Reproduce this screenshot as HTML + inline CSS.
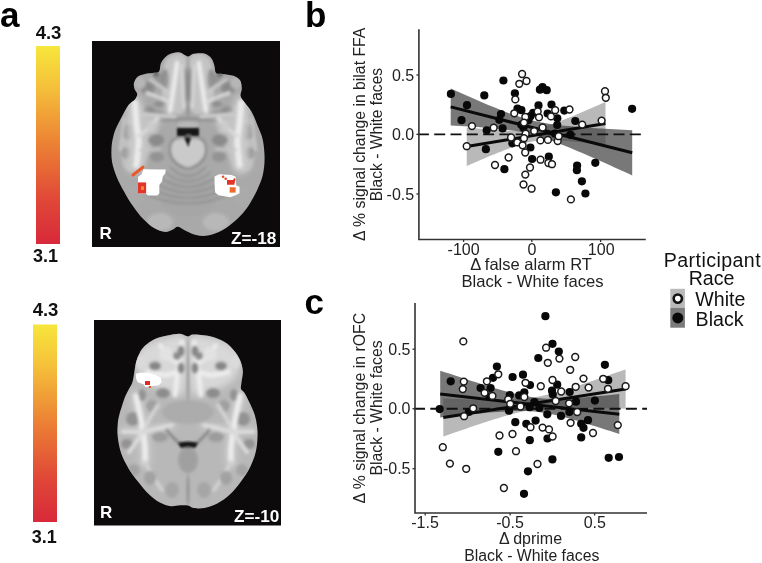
<!DOCTYPE html><html><head><meta charset="utf-8"><style>html,body{margin:0;padding:0;background:#fff;overflow:hidden}svg{display:block;filter:blur(0.35px)}</style></head><body>
<svg width="762" height="563" viewBox="0 0 762 563" font-family="Liberation Sans, sans-serif">
<defs>
<linearGradient id="cb" x1="0" y1="0" x2="0" y2="1">
<stop offset="0" stop-color="#f7e63c"/><stop offset="0.2" stop-color="#f5c23a"/><stop offset="0.5" stop-color="#ec8034"/><stop offset="0.78" stop-color="#e04737"/><stop offset="1" stop-color="#d8293a"/>
</linearGradient>
<filter id="bl2" x="-20%" y="-20%" width="140%" height="140%"><feGaussianBlur stdDeviation="2"/></filter>
<filter id="bl3" x="-20%" y="-20%" width="140%" height="140%"><feGaussianBlur stdDeviation="3"/></filter>
<filter id="bl15" x="-20%" y="-20%" width="140%" height="140%"><feGaussianBlur stdDeviation="1.5"/></filter>
<filter id="bl05" x="-20%" y="-20%" width="140%" height="140%"><feGaussianBlur stdDeviation="0.5"/></filter>
<filter id="bl1" x="-20%" y="-20%" width="140%" height="140%"><feGaussianBlur stdDeviation="0.8"/></filter>
</defs>
<text x="0" y="27" font-size="35" font-weight="bold" fill="#000">a</text>
<text x="305" y="27" font-size="35" font-weight="bold" fill="#000">b</text>
<text x="304.5" y="314" font-size="35" font-weight="bold" fill="#000">c</text>
<rect x="36" y="46" width="24" height="198" fill="url(#cb)"/>
<rect x="33" y="324.5" width="24" height="197.5" fill="url(#cb)"/>
<text x="48.5" y="39.2" font-size="18.5" font-weight="bold" text-anchor="middle" fill="#111">4.3</text>
<text x="45.6" y="262.3" font-size="18" font-weight="bold" text-anchor="middle" fill="#111">3.1</text>
<text x="45.5" y="315.6" font-size="18.5" font-weight="bold" text-anchor="middle" fill="#111">4.3</text>
<text x="44.3" y="542.7" font-size="18" font-weight="bold" text-anchor="middle" fill="#111">3.1</text>
<rect x="92" y="41" width="188" height="206" fill="#0c0a0a"/>
<rect x="94" y="320" width="187" height="205.5" fill="#0c0a0a"/>
<defs><clipPath id="cp1"><path d="M188.0,56.5 C190.2,56.7 190.6,54.3 193.3,53.8 C196.0,53.3 201.3,52.8 204.3,53.6 C207.3,54.4 209.8,56.4 211.5,58.5 C213.2,60.6 213.8,63.6 214.5,66.0 C215.2,68.4 214.7,71.7 216.0,73.0 C217.3,74.3 219.7,73.5 222.6,73.9 C225.5,74.4 230.6,74.6 233.5,75.7 C236.4,76.8 238.6,78.2 240.0,80.3 C241.4,82.4 241.7,85.9 241.8,88.5 C241.9,91.1 240.1,93.6 240.5,95.9 C240.9,98.2 242.6,99.6 244.5,102.3 C246.4,105.0 249.5,108.2 251.8,112.3 C254.1,116.4 256.4,122.4 258.2,127.0 C260.0,131.6 261.7,134.5 262.8,139.8 C263.9,145.1 264.6,152.7 264.6,158.6 C264.6,164.5 264.0,169.9 262.8,175.1 C261.6,180.3 259.7,184.5 257.3,189.7 C254.9,194.9 251.5,201.3 248.2,206.2 C244.8,211.1 241.5,215.0 237.2,219.0 C232.9,223.0 227.5,227.2 222.6,230.0 C217.7,232.8 212.4,234.7 208.0,235.5 C203.6,236.3 199.7,235.8 196.0,235.0 C192.3,234.2 189.0,232.4 186.0,231.0 C183.0,229.6 180.2,226.9 178.0,226.7 C175.8,226.4 175.1,228.6 173.0,229.5 C170.9,230.4 168.3,232.2 165.2,232.0 C162.1,231.8 157.9,230.2 154.2,228.0 C150.5,225.8 146.7,222.6 143.2,219.0 C139.7,215.4 136.3,210.8 133.1,206.2 C129.9,201.6 126.7,196.4 124.0,191.5 C121.3,186.6 118.7,181.8 116.7,176.9 C114.7,172.0 113.0,167.1 112.1,162.3 C111.2,157.5 111.3,152.1 111.5,148.0 C111.7,143.9 112.3,141.0 113.0,137.8 C113.7,134.6 114.4,132.1 115.8,128.8 C117.2,125.5 119.2,121.8 121.3,117.8 C123.4,113.8 126.3,108.0 128.6,105.0 C130.9,102.0 133.6,101.3 135.0,99.5 C136.4,97.7 137.3,95.8 137.2,94.0 C137.1,92.2 135.0,90.8 134.5,89.0 C134.0,87.2 133.5,85.0 134.0,83.0 C134.5,81.0 135.9,78.2 137.7,76.7 C139.5,75.2 142.6,74.5 145.0,73.9 C147.4,73.3 150.1,73.4 152.4,73.0 C154.7,72.6 157.6,73.2 159.0,71.5 C160.4,69.8 159.8,65.5 161.0,63.0 C162.2,60.5 164.0,58.2 166.0,56.5 C168.0,54.8 170.7,53.7 173.0,53.0 C175.3,52.3 177.5,51.9 180.0,52.5 C182.5,53.1 185.8,56.3 188.0,56.5Z"/></clipPath></defs>
<path d="M188.0,56.5 C190.2,56.7 190.6,54.3 193.3,53.8 C196.0,53.3 201.3,52.8 204.3,53.6 C207.3,54.4 209.8,56.4 211.5,58.5 C213.2,60.6 213.8,63.6 214.5,66.0 C215.2,68.4 214.7,71.7 216.0,73.0 C217.3,74.3 219.7,73.5 222.6,73.9 C225.5,74.4 230.6,74.6 233.5,75.7 C236.4,76.8 238.6,78.2 240.0,80.3 C241.4,82.4 241.7,85.9 241.8,88.5 C241.9,91.1 240.1,93.6 240.5,95.9 C240.9,98.2 242.6,99.6 244.5,102.3 C246.4,105.0 249.5,108.2 251.8,112.3 C254.1,116.4 256.4,122.4 258.2,127.0 C260.0,131.6 261.7,134.5 262.8,139.8 C263.9,145.1 264.6,152.7 264.6,158.6 C264.6,164.5 264.0,169.9 262.8,175.1 C261.6,180.3 259.7,184.5 257.3,189.7 C254.9,194.9 251.5,201.3 248.2,206.2 C244.8,211.1 241.5,215.0 237.2,219.0 C232.9,223.0 227.5,227.2 222.6,230.0 C217.7,232.8 212.4,234.7 208.0,235.5 C203.6,236.3 199.7,235.8 196.0,235.0 C192.3,234.2 189.0,232.4 186.0,231.0 C183.0,229.6 180.2,226.9 178.0,226.7 C175.8,226.4 175.1,228.6 173.0,229.5 C170.9,230.4 168.3,232.2 165.2,232.0 C162.1,231.8 157.9,230.2 154.2,228.0 C150.5,225.8 146.7,222.6 143.2,219.0 C139.7,215.4 136.3,210.8 133.1,206.2 C129.9,201.6 126.7,196.4 124.0,191.5 C121.3,186.6 118.7,181.8 116.7,176.9 C114.7,172.0 113.0,167.1 112.1,162.3 C111.2,157.5 111.3,152.1 111.5,148.0 C111.7,143.9 112.3,141.0 113.0,137.8 C113.7,134.6 114.4,132.1 115.8,128.8 C117.2,125.5 119.2,121.8 121.3,117.8 C123.4,113.8 126.3,108.0 128.6,105.0 C130.9,102.0 133.6,101.3 135.0,99.5 C136.4,97.7 137.3,95.8 137.2,94.0 C137.1,92.2 135.0,90.8 134.5,89.0 C134.0,87.2 133.5,85.0 134.0,83.0 C134.5,81.0 135.9,78.2 137.7,76.7 C139.5,75.2 142.6,74.5 145.0,73.9 C147.4,73.3 150.1,73.4 152.4,73.0 C154.7,72.6 157.6,73.2 159.0,71.5 C160.4,69.8 159.8,65.5 161.0,63.0 C162.2,60.5 164.0,58.2 166.0,56.5 C168.0,54.8 170.7,53.7 173.0,53.0 C175.3,52.3 177.5,51.9 180.0,52.5 C182.5,53.1 185.8,56.3 188.0,56.5Z" fill="#a9a9a9"/>
<g clip-path="url(#cp1)"><g filter="url(#bl15)">
<path d="M166.0,60.0 C170.0,53.7 182.7,50.0 186.0,58.0 C189.3,66.0 188.3,99.0 186.0,108.0 C183.7,117.0 176.0,114.0 172.0,112.0 C168.0,110.0 163.0,104.7 162.0,96.0 C161.0,87.3 162.0,66.3 166.0,60.0Z" fill="#c2c2c2"/><path d="M210.0,60.0 C206.0,53.7 193.3,50.0 190.0,58.0 C186.7,66.0 187.7,99.0 190.0,108.0 C192.3,117.0 200.0,114.0 204.0,112.0 C208.0,110.0 213.0,104.7 214.0,96.0 C215.0,87.3 214.0,66.3 210.0,60.0Z" fill="#c2c2c2"/>
<path d="M134.0,106.0 C138.7,101.3 145.7,109.3 150.0,112.0 C154.3,114.7 160.0,115.7 160.0,122.0 C160.0,128.3 153.3,142.0 150.0,150.0 C146.7,158.0 144.3,167.0 140.0,170.0 C135.7,173.0 127.0,173.0 124.0,168.0 C121.0,163.0 120.3,150.3 122.0,140.0 C123.7,129.7 129.3,110.7 134.0,106.0Z" fill="#bebebe"/><path d="M242.0,106.0 C237.3,101.3 230.3,109.3 226.0,112.0 C221.7,114.7 216.0,115.7 216.0,122.0 C216.0,128.3 222.7,142.0 226.0,150.0 C229.3,158.0 231.7,167.0 236.0,170.0 C240.3,173.0 249.0,173.0 252.0,168.0 C255.0,163.0 255.7,150.3 254.0,140.0 C252.3,129.7 246.7,110.7 242.0,106.0Z" fill="#bebebe"/>
<ellipse cx="148.0" cy="88.0" rx="7.0" ry="7.0" fill="#8a8a8a"/><ellipse cx="228.0" cy="88.0" rx="7.0" ry="7.0" fill="#8a8a8a"/>
<ellipse cx="159.0" cy="80.0" rx="4.0" ry="6.0" fill="#959595"/><ellipse cx="217.0" cy="80.0" rx="4.0" ry="6.0" fill="#959595"/>
<ellipse cx="149.0" cy="110.0" rx="6.0" ry="4.0" fill="#939393"/><ellipse cx="227.0" cy="110.0" rx="6.0" ry="4.0" fill="#939393"/>
<ellipse cx="128.0" cy="132.0" rx="5.5" ry="8.0" fill="#999999"/><ellipse cx="248.0" cy="132.0" rx="5.5" ry="8.0" fill="#999999"/>
<ellipse cx="126.0" cy="153.0" rx="4.5" ry="6.0" fill="#989898"/><ellipse cx="250.0" cy="153.0" rx="4.5" ry="6.0" fill="#989898"/>
<ellipse cx="156.0" cy="140.0" rx="8.0" ry="6.0" fill="#8a8a8a"/><ellipse cx="220.0" cy="140.0" rx="8.0" ry="6.0" fill="#8a8a8a"/>
<ellipse cx="157.0" cy="157.0" rx="7.0" ry="5.0" fill="#939393"/><ellipse cx="219.0" cy="157.0" rx="7.0" ry="5.0" fill="#939393"/>
<path d="M150.0,112.0 C152.5,112.3 160.7,112.7 165.0,114.0 C169.3,115.3 174.2,119.0 176.0,120.0" fill="none" stroke="#8a8a8a" stroke-width="3.0" stroke-linecap="round" stroke-linejoin="round"/><path d="M226.0,112.0 C223.5,112.3 215.3,112.7 211.0,114.0 C206.7,115.3 201.8,119.0 200.0,120.0" fill="none" stroke="#8a8a8a" stroke-width="3.0" stroke-linecap="round" stroke-linejoin="round"/>
<ellipse cx="165.0" cy="80.0" rx="4.0" ry="11.0" fill="#8e8e8e"/><ellipse cx="211.0" cy="80.0" rx="4.0" ry="11.0" fill="#8e8e8e"/>
<ellipse cx="156.0" cy="74.0" rx="3.0" ry="3.0" fill="#6a6a6a"/><ellipse cx="220.0" cy="74.0" rx="3.0" ry="3.0" fill="#6a6a6a"/>
<ellipse cx="185.0" cy="85.0" rx="2.5" ry="18.0" fill="#9a9a9a"/><ellipse cx="191.0" cy="85.0" rx="2.5" ry="18.0" fill="#9a9a9a"/>
<ellipse cx="160.0" cy="104.0" rx="6.0" ry="3.0" fill="#8e8e8e"/><ellipse cx="216.0" cy="104.0" rx="6.0" ry="3.0" fill="#8e8e8e"/>
<ellipse cx="188.0" cy="88.0" rx="1.2" ry="30.0" fill="#808080"/>
<path d="M188,140 C182,134.5 169,134.5 169,150 C169,162 180,168.5 188,169.5 C196,168.5 207,162 207,150 C207,134.5 194,134.5 188,140Z" fill="#828282"/>
<path d="M160.0,120.5 C164.7,120.2 178.7,119.0 188.0,119.0 C197.3,119.0 211.3,120.2 216.0,120.5" fill="none" stroke="#8a8a8a" stroke-width="2.5" stroke-linecap="round" stroke-linejoin="round"/>
<ellipse cx="188.0" cy="195.0" rx="30.0" ry="22.0" fill="#a6a6a6"/>
<g filter="url(#bl3)"><path d="M177.0,63.0 C176.5,66.7 175.2,77.0 174.0,85.0 C172.8,93.0 170.7,106.7 170.0,111.0" fill="none" stroke="#c8c8c8" stroke-width="10.0" stroke-linecap="round" stroke-linejoin="round"/><path d="M199.0,63.0 C199.5,66.7 200.8,77.0 202.0,85.0 C203.2,93.0 205.3,106.7 206.0,111.0" fill="none" stroke="#c8c8c8" stroke-width="10.0" stroke-linecap="round" stroke-linejoin="round"/></g>
<g filter="url(#bl3)"><path d="M134.0,103.0 C134.2,106.3 135.0,116.5 135.4,123.0 C135.8,129.5 136.6,134.8 136.6,142.0 C136.6,149.2 135.6,162.0 135.4,166.0" fill="none" stroke="#cbcbcb" stroke-width="16.0" stroke-linecap="round" stroke-linejoin="round"/><path d="M242.0,103.0 C241.8,106.3 241.0,116.5 240.6,123.0 C240.2,129.5 239.4,134.8 239.4,142.0 C239.4,149.2 240.4,162.0 240.6,166.0" fill="none" stroke="#cbcbcb" stroke-width="16.0" stroke-linecap="round" stroke-linejoin="round"/></g>
<g filter="url(#bl3)"><path d="M138.6,136.0 C140.3,134.7 145.8,131.0 149.0,128.0 C152.2,125.0 156.2,119.7 157.7,118.0" fill="none" stroke="#c4c4c4" stroke-width="8.0" stroke-linecap="round" stroke-linejoin="round"/><path d="M237.4,136.0 C235.7,134.7 230.2,131.0 227.0,128.0 C223.8,125.0 219.8,119.7 218.3,118.0" fill="none" stroke="#c4c4c4" stroke-width="8.0" stroke-linecap="round" stroke-linejoin="round"/></g>
<path d="M177.0,63.0 C176.5,66.7 175.2,77.0 174.0,85.0 C172.8,93.0 170.7,106.7 170.0,111.0" fill="none" stroke="#eaeaea" stroke-width="4.5" stroke-linecap="round" stroke-linejoin="round"/><path d="M199.0,63.0 C199.5,66.7 200.8,77.0 202.0,85.0 C203.2,93.0 205.3,106.7 206.0,111.0" fill="none" stroke="#eaeaea" stroke-width="4.5" stroke-linecap="round" stroke-linejoin="round"/>
<path d="M182.0,66.0 C182.2,69.7 182.8,81.2 183.0,88.0 C183.2,94.8 183.4,103.8 183.5,107.0" fill="none" stroke="#d8d8d8" stroke-width="3.0" stroke-linecap="round" stroke-linejoin="round"/><path d="M194.0,66.0 C193.8,69.7 193.2,81.2 193.0,88.0 C192.8,94.8 192.6,103.8 192.5,107.0" fill="none" stroke="#d8d8d8" stroke-width="3.0" stroke-linecap="round" stroke-linejoin="round"/>
<path d="M147.0,93.0 C148.8,93.7 154.3,95.5 158.0,97.0 C161.7,98.5 167.2,101.2 169.0,102.0" fill="none" stroke="#d8d8d8" stroke-width="3.5" stroke-linecap="round" stroke-linejoin="round"/><path d="M229.0,93.0 C227.2,93.7 221.7,95.5 218.0,97.0 C214.3,98.5 208.8,101.2 207.0,102.0" fill="none" stroke="#d8d8d8" stroke-width="3.5" stroke-linecap="round" stroke-linejoin="round"/>
<path d="M150.0,80.0 C151.7,81.0 157.0,84.0 160.0,86.0 C163.0,88.0 166.7,91.0 168.0,92.0" fill="none" stroke="#cccccc" stroke-width="3.0" stroke-linecap="round" stroke-linejoin="round"/><path d="M226.0,80.0 C224.3,81.0 219.0,84.0 216.0,86.0 C213.0,88.0 209.3,91.0 208.0,92.0" fill="none" stroke="#cccccc" stroke-width="3.0" stroke-linecap="round" stroke-linejoin="round"/>
<path d="M135.0,103.0 C135.2,106.3 135.8,116.5 136.4,123.0 C137.0,129.5 138.6,135.0 138.6,142.0 C138.6,149.0 136.8,161.2 136.4,165.0" fill="none" stroke="#eaeaea" stroke-width="6.0" stroke-linecap="round" stroke-linejoin="round"/><path d="M241.0,103.0 C240.8,106.3 240.2,116.5 239.6,123.0 C239.0,129.5 237.4,135.0 237.4,142.0 C237.4,149.0 239.2,161.2 239.6,165.0" fill="none" stroke="#eaeaea" stroke-width="6.0" stroke-linecap="round" stroke-linejoin="round"/>
<path d="M138.6,136.0 C140.3,134.7 145.8,131.0 149.0,128.0 C152.2,125.0 156.2,119.7 157.7,118.0" fill="none" stroke="#dadada" stroke-width="3.5" stroke-linecap="round" stroke-linejoin="round"/><path d="M237.4,136.0 C235.7,134.7 230.2,131.0 227.0,128.0 C223.8,125.0 219.8,119.7 218.3,118.0" fill="none" stroke="#dadada" stroke-width="3.5" stroke-linecap="round" stroke-linejoin="round"/>
<path d="M143.5,114.0 C146.2,114.2 154.8,114.5 160.0,115.0 C165.2,115.5 172.5,116.7 175.0,117.0" fill="none" stroke="#cfcfcf" stroke-width="3.0" stroke-linecap="round" stroke-linejoin="round"/><path d="M232.5,114.0 C229.8,114.2 221.2,114.5 216.0,115.0 C210.8,115.5 203.5,116.7 201.0,117.0" fill="none" stroke="#cfcfcf" stroke-width="3.0" stroke-linecap="round" stroke-linejoin="round"/>
<path d="M124.0,118.0 C123.7,120.8 122.7,129.7 122.0,135.0 C121.3,140.3 120.3,147.5 120.0,150.0" fill="none" stroke="#c8c8c8" stroke-width="2.5" stroke-linecap="round" stroke-linejoin="round"/><path d="M252.0,118.0 C252.3,120.8 253.3,129.7 254.0,135.0 C254.7,140.3 255.7,147.5 256.0,150.0" fill="none" stroke="#c8c8c8" stroke-width="2.5" stroke-linecap="round" stroke-linejoin="round"/>
<path d="M140.0,150.0 C141.7,150.0 146.7,150.2 150.0,150.0 C153.3,149.8 158.3,149.2 160.0,149.0" fill="none" stroke="#c6c6c6" stroke-width="2.5" stroke-linecap="round" stroke-linejoin="round"/><path d="M236.0,150.0 C234.3,150.0 229.3,150.2 226.0,150.0 C222.7,149.8 217.7,149.2 216.0,149.0" fill="none" stroke="#c6c6c6" stroke-width="2.5" stroke-linecap="round" stroke-linejoin="round"/>
<ellipse cx="140.0" cy="83.0" rx="6.0" ry="6.0" fill="#b6b6b6"/><ellipse cx="236.0" cy="83.0" rx="6.0" ry="6.0" fill="#b6b6b6"/>
<ellipse cx="188.0" cy="124.5" rx="10.5" ry="3.5" fill="#b8b8b8"/>
<ellipse cx="151.0" cy="126.0" rx="4.0" ry="6.0" fill="#cccccc"/><ellipse cx="225.0" cy="126.0" rx="4.0" ry="6.0" fill="#cccccc"/>
<path d="M188,141 C184,137 171,136 171,150 C171,160 181,166 188,167.5 C195,166 205,160 205,150 C205,136 192,137 188,141Z" fill="#cacaca"/>
<path d="M170.0,167.0 Q188,185.0 206.0,167.0" fill="none" stroke="#8c8c8c" stroke-width="1.6"/>
<path d="M165.5,172.5 Q188,190.5 210.5,172.5" fill="none" stroke="#8c8c8c" stroke-width="1.6"/>
<path d="M161.0,178.0 Q188,196.0 215.0,178.0" fill="none" stroke="#8c8c8c" stroke-width="1.6"/>
<path d="M156.5,183.5 Q188,201.5 219.5,183.5" fill="none" stroke="#8c8c8c" stroke-width="1.6"/>
<path d="M152.0,189.0 Q188,207.0 224.0,189.0" fill="none" stroke="#8c8c8c" stroke-width="1.6"/>
<path d="M147.5,194.5 Q188,212.5 228.5,194.5" fill="none" stroke="#8c8c8c" stroke-width="1.6"/>
<ellipse cx="160.0" cy="222.0" rx="13.0" ry="9.0" fill="#b8b8b8"/><ellipse cx="216.0" cy="222.0" rx="13.0" ry="9.0" fill="#b8b8b8"/>
<ellipse cx="135.0" cy="195.0" rx="8.0" ry="10.0" fill="#aaaaaa"/><ellipse cx="241.0" cy="195.0" rx="8.0" ry="10.0" fill="#aaaaaa"/>
</g>
<g filter="url(#bl1)" fill="#121212">
<path d="M177,128 L199,128 L199,136 L191,136 L190.4,139 L188.3,147 L185,139 L185,136 L177,136Z"/>
<rect x="186" y="134.5" width="5" height="3" fill="#6a6a6a"/>
</g>
</g>
<g filter="url(#bl05)">
<path d="M143.6,169.2 L165.7,169.6 L165.3,173.5 L162.8,176.3 L162.1,181.3 L159.3,184.9 L159.3,193.4 L157.1,195.5 L147.9,195.5 L145.8,193.4 L138.7,193.4 L138,183.5 L138,177 L141.5,174.2Z" fill="#fff"/>
<path d="M214.6,176.5 L219.2,174.2 L231.6,174.9 L235.6,176.8 L236.2,185.4 L239.5,186.7 L239.5,193.2 L235.6,195.2 L230.3,197.2 L218.5,195.2 L215.2,192.6 L214.6,184.7Z" fill="#fff"/>
<path d="M133,175 L143,167.1" stroke="#ec582c" stroke-width="3" stroke-linecap="round"/>
<rect x="138" y="182.4" width="8.1" height="11" fill="#e2342a"/>
<rect x="141" y="186.3" width="3" height="3.6" fill="#f08a3a"/>
<circle cx="223.1" cy="176.8" r="1.3" fill="#e8482a"/><circle cx="225.7" cy="178.8" r="1.3" fill="#e8482a"/>
<path d="M227,180.1 L233,180.1 L234.3,178 L235.5,179 L234.3,184.7 L227,184.7Z" fill="#e2342a"/>
<rect x="229.7" y="187.3" width="5.9" height="5.3" fill="#ec6a2e"/>
</g>
<defs><clipPath id="cp2"><path d="M188.0,336.5 C190.2,336.6 189.8,334.6 193.5,334.6 C197.2,334.6 204.8,335.1 210.0,336.3 C215.2,337.5 220.7,339.7 224.6,342.0 C228.5,344.3 231.1,347.2 233.7,350.2 C236.3,353.2 238.6,356.7 240.1,360.2 C241.6,363.7 242.7,367.5 242.9,371.2 C243.1,374.9 241.8,379.2 241.5,382.2 C241.2,385.2 240.5,387.2 241.0,389.0 C241.5,390.8 243.2,390.7 244.7,393.2 C246.2,395.7 248.5,400.5 250.2,404.1 C251.9,407.8 253.7,411.5 254.8,415.1 C255.9,418.8 256.6,422.2 257.0,426.0 C257.4,429.8 257.7,433.2 257.5,437.6 C257.3,442.0 256.9,447.4 255.7,452.3 C254.5,457.2 252.6,462.0 250.2,466.9 C247.8,471.8 244.3,476.9 241.0,481.5 C237.7,486.1 234.0,490.6 230.1,494.3 C226.2,498.0 221.6,501.2 217.3,503.5 C213.0,505.8 208.5,507.2 204.5,508.0 C200.5,508.8 196.2,508.4 193.5,508.0 C190.8,507.6 190.2,505.9 188.0,505.5 C185.8,505.1 182.9,505.2 180.0,505.3 C177.1,505.4 174.2,506.6 170.8,506.2 C167.4,505.8 163.5,504.6 159.8,502.6 C156.2,500.6 152.6,497.8 148.9,494.3 C145.2,490.8 141.3,485.8 137.9,481.5 C134.5,477.2 131.4,473.3 128.7,468.7 C125.9,464.1 123.2,459.3 121.4,454.1 C119.6,448.9 118.4,442.8 117.8,437.6 C117.2,432.4 117.5,426.9 117.8,423.0 C118.1,419.1 118.9,416.5 119.5,414.0 C120.1,411.5 120.5,410.7 121.4,407.8 C122.3,404.9 123.9,399.9 125.1,396.8 C126.3,393.8 127.5,391.9 128.7,389.5 C129.9,387.1 131.5,384.9 132.4,382.2 C133.3,379.4 133.6,376.4 134.2,373.0 C134.8,369.6 135.2,365.4 136.1,362.0 C137.0,358.6 138.2,355.6 139.7,352.9 C141.2,350.2 142.8,347.9 145.2,345.6 C147.6,343.3 150.7,340.9 154.4,339.2 C158.1,337.5 162.9,336.4 167.2,335.5 C171.5,334.6 176.5,333.5 180.0,333.7 C183.5,333.9 185.8,336.4 188.0,336.5Z"/></clipPath></defs>
<path d="M188.0,336.5 C190.2,336.6 189.8,334.6 193.5,334.6 C197.2,334.6 204.8,335.1 210.0,336.3 C215.2,337.5 220.7,339.7 224.6,342.0 C228.5,344.3 231.1,347.2 233.7,350.2 C236.3,353.2 238.6,356.7 240.1,360.2 C241.6,363.7 242.7,367.5 242.9,371.2 C243.1,374.9 241.8,379.2 241.5,382.2 C241.2,385.2 240.5,387.2 241.0,389.0 C241.5,390.8 243.2,390.7 244.7,393.2 C246.2,395.7 248.5,400.5 250.2,404.1 C251.9,407.8 253.7,411.5 254.8,415.1 C255.9,418.8 256.6,422.2 257.0,426.0 C257.4,429.8 257.7,433.2 257.5,437.6 C257.3,442.0 256.9,447.4 255.7,452.3 C254.5,457.2 252.6,462.0 250.2,466.9 C247.8,471.8 244.3,476.9 241.0,481.5 C237.7,486.1 234.0,490.6 230.1,494.3 C226.2,498.0 221.6,501.2 217.3,503.5 C213.0,505.8 208.5,507.2 204.5,508.0 C200.5,508.8 196.2,508.4 193.5,508.0 C190.8,507.6 190.2,505.9 188.0,505.5 C185.8,505.1 182.9,505.2 180.0,505.3 C177.1,505.4 174.2,506.6 170.8,506.2 C167.4,505.8 163.5,504.6 159.8,502.6 C156.2,500.6 152.6,497.8 148.9,494.3 C145.2,490.8 141.3,485.8 137.9,481.5 C134.5,477.2 131.4,473.3 128.7,468.7 C125.9,464.1 123.2,459.3 121.4,454.1 C119.6,448.9 118.4,442.8 117.8,437.6 C117.2,432.4 117.5,426.9 117.8,423.0 C118.1,419.1 118.9,416.5 119.5,414.0 C120.1,411.5 120.5,410.7 121.4,407.8 C122.3,404.9 123.9,399.9 125.1,396.8 C126.3,393.8 127.5,391.9 128.7,389.5 C129.9,387.1 131.5,384.9 132.4,382.2 C133.3,379.4 133.6,376.4 134.2,373.0 C134.8,369.6 135.2,365.4 136.1,362.0 C137.0,358.6 138.2,355.6 139.7,352.9 C141.2,350.2 142.8,347.9 145.2,345.6 C147.6,343.3 150.7,340.9 154.4,339.2 C158.1,337.5 162.9,336.4 167.2,335.5 C171.5,334.6 176.5,333.5 180.0,333.7 C183.5,333.9 185.8,336.4 188.0,336.5Z" fill="#b8b8b8"/>
<g clip-path="url(#cp2)"><g filter="url(#bl15)">
<g filter="url(#bl3)"><path d="M136.0,396.0 C136.7,399.2 138.8,409.0 140.0,415.0 C141.2,421.0 142.2,426.5 143.0,432.0 C143.8,437.5 144.7,443.0 145.0,448.0 C145.3,453.0 145.0,459.7 145.0,462.0" fill="none" stroke="#cdcdcd" stroke-width="11.0" stroke-linecap="round" stroke-linejoin="round"/><path d="M240.0,396.0 C239.3,399.2 237.2,409.0 236.0,415.0 C234.8,421.0 233.8,426.5 233.0,432.0 C232.2,437.5 231.3,443.0 231.0,448.0 C230.7,453.0 231.0,459.7 231.0,462.0" fill="none" stroke="#cdcdcd" stroke-width="11.0" stroke-linecap="round" stroke-linejoin="round"/></g>
<g filter="url(#bl3)"><path d="M123.0,432.0 C124.7,432.0 129.7,432.0 133.0,432.0 C136.3,432.0 138.7,432.7 143.0,432.0 C147.3,431.3 154.2,429.2 159.0,428.0 C163.8,426.8 169.8,425.5 172.0,425.0" fill="none" stroke="#cacaca" stroke-width="9.0" stroke-linecap="round" stroke-linejoin="round"/><path d="M253.0,432.0 C251.3,432.0 246.3,432.0 243.0,432.0 C239.7,432.0 237.3,432.7 233.0,432.0 C228.7,431.3 221.8,429.2 217.0,428.0 C212.2,426.8 206.2,425.5 204.0,425.0" fill="none" stroke="#cacaca" stroke-width="9.0" stroke-linecap="round" stroke-linejoin="round"/></g>
<g filter="url(#bl3)"><path d="M140.0,350.0 C144.5,344.3 157.3,339.7 165.0,338.0 C172.7,336.3 182.8,331.0 186.0,340.0 C189.2,349.0 186.7,383.3 184.0,392.0 C181.3,400.7 175.7,393.2 170.0,392.0 C164.3,390.8 155.3,388.3 150.0,385.0 C144.7,381.7 139.7,377.8 138.0,372.0 C136.3,366.2 135.5,355.7 140.0,350.0Z" fill="#d8d8d8"/><path d="M236.0,350.0 C231.5,344.3 218.7,339.7 211.0,338.0 C203.3,336.3 193.2,331.0 190.0,340.0 C186.8,349.0 189.3,383.3 192.0,392.0 C194.7,400.7 200.3,393.2 206.0,392.0 C211.7,390.8 220.7,388.3 226.0,385.0 C231.3,381.7 236.3,377.8 238.0,372.0 C239.7,366.2 240.5,355.7 236.0,350.0Z" fill="#d8d8d8"/></g>
<path d="M182.0,342.0 C181.3,346.7 179.2,361.2 178.0,370.0 C176.8,378.8 175.5,390.8 175.0,395.0" fill="none" stroke="#ececec" stroke-width="5.0" stroke-linecap="round" stroke-linejoin="round"/><path d="M194.0,342.0 C194.7,346.7 196.8,361.2 198.0,370.0 C199.2,378.8 200.5,390.8 201.0,395.0" fill="none" stroke="#ececec" stroke-width="5.0" stroke-linecap="round" stroke-linejoin="round"/>
<path d="M148.0,372.0 C150.8,372.5 160.0,375.0 165.0,375.0 C170.0,375.0 175.8,372.5 178.0,372.0" fill="none" stroke="#ececec" stroke-width="5.0" stroke-linecap="round" stroke-linejoin="round"/><path d="M228.0,372.0 C225.2,372.5 216.0,375.0 211.0,375.0 C206.0,375.0 200.2,372.5 198.0,372.0" fill="none" stroke="#ececec" stroke-width="5.0" stroke-linecap="round" stroke-linejoin="round"/>
<path d="M160.0,345.0 C161.3,346.8 165.3,353.2 168.0,356.0 C170.7,358.8 174.7,361.0 176.0,362.0" fill="none" stroke="#ececec" stroke-width="4.0" stroke-linecap="round" stroke-linejoin="round"/><path d="M216.0,345.0 C214.7,346.8 210.7,353.2 208.0,356.0 C205.3,358.8 201.3,361.0 200.0,362.0" fill="none" stroke="#ececec" stroke-width="4.0" stroke-linecap="round" stroke-linejoin="round"/>
<ellipse cx="155.0" cy="366.0" rx="6.0" ry="4.5" fill="#868686"/><ellipse cx="221.0" cy="366.0" rx="6.0" ry="4.5" fill="#868686"/>
<ellipse cx="181.0" cy="351.0" rx="3.5" ry="5.5" fill="#858585"/><ellipse cx="195.0" cy="351.0" rx="3.5" ry="5.5" fill="#858585"/>
<ellipse cx="181.0" cy="368.0" rx="3.5" ry="5.5" fill="#858585"/><ellipse cx="195.0" cy="368.0" rx="3.5" ry="5.5" fill="#858585"/>
<ellipse cx="163.0" cy="393.0" rx="7.0" ry="5.0" fill="#8c8c8c"/><ellipse cx="213.0" cy="393.0" rx="7.0" ry="5.0" fill="#8c8c8c"/>
<ellipse cx="142.0" cy="395.0" rx="4.0" ry="6.0" fill="#939393"/><ellipse cx="234.0" cy="395.0" rx="4.0" ry="6.0" fill="#939393"/>
<ellipse cx="188.0" cy="370.0" rx="1.2" ry="32.0" fill="#8a8a8a"/>
<ellipse cx="188.0" cy="412.0" rx="26.0" ry="12.0" fill="#acacac"/>
<ellipse cx="199.0" cy="356.0" rx="4.0" ry="4.0" fill="#8c8c8c"/><ellipse cx="177.0" cy="356.0" rx="4.0" ry="4.0" fill="#8c8c8c"/>
<ellipse cx="166.0" cy="354.0" rx="7.0" ry="7.0" fill="#e2e2e2"/><ellipse cx="210.0" cy="354.0" rx="7.0" ry="7.0" fill="#e2e2e2"/>
<ellipse cx="140.0" cy="362.0" rx="5.0" ry="7.0" fill="#dadada"/><ellipse cx="236.0" cy="362.0" rx="5.0" ry="7.0" fill="#dadada"/>
<ellipse cx="133.0" cy="419.0" rx="7.0" ry="7.0" fill="#939393"/><ellipse cx="243.0" cy="419.0" rx="7.0" ry="7.0" fill="#939393"/>
<ellipse cx="127.0" cy="444.0" rx="6.0" ry="5.0" fill="#939393"/><ellipse cx="249.0" cy="444.0" rx="6.0" ry="5.0" fill="#939393"/>
<ellipse cx="160.0" cy="437.0" rx="8.0" ry="5.0" fill="#9c9c9c"/><ellipse cx="216.0" cy="437.0" rx="8.0" ry="5.0" fill="#9c9c9c"/>
<ellipse cx="152.0" cy="406.0" rx="6.0" ry="6.0" fill="#a0a0a0"/><ellipse cx="224.0" cy="406.0" rx="6.0" ry="6.0" fill="#a0a0a0"/>
<path d="M136.0,396.0 C136.7,399.2 138.8,409.0 140.0,415.0 C141.2,421.0 142.2,426.5 143.0,432.0 C143.8,437.5 144.7,443.0 145.0,448.0 C145.3,453.0 145.0,459.7 145.0,462.0" fill="none" stroke="#ececec" stroke-width="5.5" stroke-linecap="round" stroke-linejoin="round"/><path d="M240.0,396.0 C239.3,399.2 237.2,409.0 236.0,415.0 C234.8,421.0 233.8,426.5 233.0,432.0 C232.2,437.5 231.3,443.0 231.0,448.0 C230.7,453.0 231.0,459.7 231.0,462.0" fill="none" stroke="#ececec" stroke-width="5.5" stroke-linecap="round" stroke-linejoin="round"/>
<path d="M123.0,432.0 C124.7,432.0 129.7,432.0 133.0,432.0 C136.3,432.0 138.7,432.7 143.0,432.0 C147.3,431.3 154.2,429.2 159.0,428.0 C163.8,426.8 169.8,425.5 172.0,425.0" fill="none" stroke="#dcdcdc" stroke-width="4.0" stroke-linecap="round" stroke-linejoin="round"/><path d="M253.0,432.0 C251.3,432.0 246.3,432.0 243.0,432.0 C239.7,432.0 237.3,432.7 233.0,432.0 C228.7,431.3 221.8,429.2 217.0,428.0 C212.2,426.8 206.2,425.5 204.0,425.0" fill="none" stroke="#dcdcdc" stroke-width="4.0" stroke-linecap="round" stroke-linejoin="round"/>
<path d="M143.0,432.0 C141.8,433.7 138.3,438.7 136.0,442.0 C133.7,445.3 130.2,450.3 129.0,452.0" fill="none" stroke="#dcdcdc" stroke-width="4.0" stroke-linecap="round" stroke-linejoin="round"/><path d="M233.0,432.0 C234.2,433.7 237.7,438.7 240.0,442.0 C242.3,445.3 245.8,450.3 247.0,452.0" fill="none" stroke="#dcdcdc" stroke-width="4.0" stroke-linecap="round" stroke-linejoin="round"/>
<path d="M143.0,432.0 C144.2,429.7 147.5,422.5 150.0,418.0 C152.5,413.5 156.7,407.2 158.0,405.0" fill="none" stroke="#d6d6d6" stroke-width="3.5" stroke-linecap="round" stroke-linejoin="round"/><path d="M233.0,432.0 C231.8,429.7 228.5,422.5 226.0,418.0 C223.5,413.5 219.3,407.2 218.0,405.0" fill="none" stroke="#d6d6d6" stroke-width="3.5" stroke-linecap="round" stroke-linejoin="round"/>
<path d="M145.0,462.0 C146.2,464.2 149.2,470.3 152.0,475.0 C154.8,479.7 160.3,487.5 162.0,490.0" fill="none" stroke="#d0d0d0" stroke-width="4.0" stroke-linecap="round" stroke-linejoin="round"/><path d="M231.0,462.0 C229.8,464.2 226.8,470.3 224.0,475.0 C221.2,479.7 215.7,487.5 214.0,490.0" fill="none" stroke="#d0d0d0" stroke-width="4.0" stroke-linecap="round" stroke-linejoin="round"/>
<ellipse cx="150.0" cy="478.0" rx="6.0" ry="7.0" fill="#a2a2a2"/><ellipse cx="226.0" cy="478.0" rx="6.0" ry="7.0" fill="#a2a2a2"/>
<ellipse cx="172.0" cy="490.0" rx="7.0" ry="8.0" fill="#a6a6a6"/><ellipse cx="204.0" cy="490.0" rx="7.0" ry="8.0" fill="#a6a6a6"/>
<ellipse cx="134.0" cy="470.0" rx="6.0" ry="6.0" fill="#a4a4a4"/><ellipse cx="242.0" cy="470.0" rx="6.0" ry="6.0" fill="#a4a4a4"/>
<ellipse cx="188.0" cy="460.0" rx="10.0" ry="13.0" fill="#a0a0a0"/>
<path d="M166,429 Q180,447 188,447 Q196,447 210,429" fill="none" stroke="#7e7e7e" stroke-width="2.5"/>
<ellipse cx="188.0" cy="490.0" rx="1.2" ry="16.0" fill="#8a8a8a"/>
</g>
<g filter="url(#bl1)" fill="#151515">
<path d="M178,443 Q188,440 198,443 L195,448 Q188,445 181,448Z"/>
</g>
</g>
<path d="M136,373.8 L139.7,372.8 L148.3,372.8 L155,374.7 L160.7,377.6 L161.6,382.3 L158.8,385.2 L152.1,386.1 L145.4,387.1 L143.5,384.2 L137.8,382.3 L136,378.5Z" fill="#fff" filter="url(#bl05)"/>
<rect x="145" y="381" width="5" height="4" fill="#e02a2a"/>
<rect x="149" y="386" width="2" height="2" fill="#e05a2a"/>
<text x="99.5" y="239.3" font-size="17" font-weight="bold" fill="#fff">R</text>
<text x="231" y="243.7" font-size="17.2" font-weight="bold" fill="#fff">Z=-18</text>
<text x="100" y="517.5" font-size="17" font-weight="bold" fill="#fff">R</text>
<text x="234" y="522" font-size="17.2" font-weight="bold" fill="#fff">Z=-10</text>
<path d="M466.7,127.4 L470.2,127.7 L473.6,128.1 L477.1,128.4 L480.6,128.7 L484.1,129.0 L487.5,129.3 L491.0,129.6 L494.5,129.8 L497.9,130.1 L501.4,130.3 L504.9,130.5 L508.3,130.7 L511.8,130.8 L515.3,130.8 L518.8,130.8 L522.2,130.7 L525.7,130.5 L529.2,130.1 L532.6,129.6 L536.1,128.9 L539.6,128.1 L543.0,127.2 L546.5,126.1 L550.0,124.9 L553.5,123.7 L556.9,122.4 L560.4,121.1 L563.9,119.7 L567.3,118.3 L570.8,116.9 L574.3,115.5 L577.7,114.0 L581.2,112.6 L584.7,111.1 L588.1,109.6 L591.6,108.1 L595.1,106.6 L598.6,105.1 L602.0,103.6 L605.5,102.1 L605.5,144.5 L602.0,144.2 L598.6,143.8 L595.1,143.5 L591.6,143.2 L588.1,142.8 L584.7,142.5 L581.2,142.2 L577.7,141.9 L574.3,141.7 L570.8,141.4 L567.3,141.1 L563.9,140.9 L560.4,140.7 L556.9,140.6 L553.5,140.4 L550.0,140.4 L546.5,140.4 L543.0,140.5 L539.6,140.7 L536.1,141.1 L532.6,141.6 L529.2,142.2 L525.7,143.1 L522.2,144.0 L518.8,145.0 L515.3,146.2 L511.8,147.4 L508.3,148.7 L504.9,150.0 L501.4,151.4 L497.9,152.8 L494.5,154.2 L491.0,155.6 L487.5,157.1 L484.1,158.6 L480.6,160.0 L477.1,161.5 L473.6,163.0 L470.2,164.5 L466.7,166.0Z" fill="#b9b9b9"/>
<path d="M450.7,88.4 L455.2,90.4 L459.8,92.5 L464.3,94.5 L468.9,96.5 L473.4,98.5 L477.9,100.5 L482.5,102.4 L487.0,104.4 L491.5,106.3 L496.1,108.1 L500.6,110.0 L505.2,111.7 L509.7,113.5 L514.2,115.1 L518.8,116.6 L523.3,118.1 L527.8,119.4 L532.4,120.6 L536.9,121.6 L541.5,122.5 L546.0,123.3 L550.5,124.0 L555.1,124.6 L559.6,125.2 L564.1,125.7 L568.7,126.1 L573.2,126.5 L577.8,126.9 L582.3,127.2 L586.8,127.6 L591.4,127.9 L595.9,128.2 L600.4,128.5 L605.0,128.7 L609.5,129.0 L614.1,129.2 L618.6,129.5 L623.1,129.7 L627.7,130.0 L632.2,130.2 L632.2,175.4 L627.7,173.3 L623.1,171.3 L618.6,169.2 L614.1,167.2 L609.5,165.1 L605.0,163.1 L600.4,161.1 L595.9,159.1 L591.4,157.1 L586.8,155.1 L582.3,153.1 L577.8,151.2 L573.2,149.2 L568.7,147.3 L564.1,145.5 L559.6,143.7 L555.1,141.9 L550.5,140.3 L546.0,138.7 L541.5,137.2 L536.9,135.8 L532.4,134.6 L527.8,133.4 L523.3,132.5 L518.8,131.6 L514.2,130.8 L509.7,130.2 L505.2,129.6 L500.6,129.1 L496.1,128.6 L491.5,128.2 L487.0,127.8 L482.5,127.4 L477.9,127.1 L473.4,126.8 L468.9,126.5 L464.3,126.2 L459.8,125.9 L455.2,125.7 L450.7,125.4Z" fill="#3e3e3e" fill-opacity="0.7"/>
<line x1="417.9" y1="134.4" x2="645.8" y2="134.4" stroke="#111" stroke-width="1.9" stroke-dasharray="11 5.3"/>
<line x1="466.7" y1="146.5" x2="605.5" y2="123.5" stroke="#0a0a0a" stroke-width="3"/>
<line x1="450.7" y1="106.9" x2="632.2" y2="152.8" stroke="#0a0a0a" stroke-width="3"/>
<path d="M418.9,29.2 V239.5 H645.8" fill="none" stroke="#333" stroke-width="1.6"/>
<line x1="416.4" y1="75.0" x2="418.9" y2="75.0" stroke="#333" stroke-width="1.3"/>
<line x1="416.4" y1="134.4" x2="418.9" y2="134.4" stroke="#333" stroke-width="1.3"/>
<line x1="416.4" y1="194.0" x2="418.9" y2="194.0" stroke="#333" stroke-width="1.3"/>
<line x1="463.6" y1="239.5" x2="463.6" y2="242.0" stroke="#333" stroke-width="1.3"/>
<line x1="531.8" y1="239.5" x2="531.8" y2="242.0" stroke="#333" stroke-width="1.3"/>
<line x1="600.6" y1="239.5" x2="600.6" y2="242.0" stroke="#333" stroke-width="1.3"/>
<circle cx="450.9" cy="93.9" r="4.1" fill="#080808"/>
<circle cx="484.3" cy="95.4" r="4.1" fill="#080808"/>
<circle cx="503.4" cy="80.5" r="4.1" fill="#080808"/>
<circle cx="514.9" cy="93.3" r="4.1" fill="#080808"/>
<circle cx="467.0" cy="105.2" r="4.1" fill="#080808"/>
<circle cx="461.5" cy="120.2" r="4.1" fill="#080808"/>
<circle cx="501.0" cy="114.0" r="4.1" fill="#080808"/>
<circle cx="499.3" cy="119.8" r="4.1" fill="#080808"/>
<circle cx="486.7" cy="130.3" r="4.1" fill="#080808"/>
<circle cx="502.6" cy="128.4" r="4.1" fill="#080808"/>
<circle cx="517.5" cy="108.5" r="4.1" fill="#080808"/>
<circle cx="521.4" cy="110.2" r="4.1" fill="#080808"/>
<circle cx="533.2" cy="112.8" r="4.1" fill="#080808"/>
<circle cx="530.5" cy="116.2" r="4.1" fill="#080808"/>
<circle cx="528.4" cy="120.3" r="4.1" fill="#080808"/>
<circle cx="523.5" cy="127.8" r="4.1" fill="#080808"/>
<circle cx="521.3" cy="124.8" r="4.1" fill="#080808"/>
<circle cx="542.5" cy="87.0" r="4.1" fill="#080808"/>
<circle cx="546.7" cy="90.2" r="4.1" fill="#080808"/>
<circle cx="539.9" cy="89.7" r="4.1" fill="#080808"/>
<circle cx="538.5" cy="105.4" r="4.1" fill="#080808"/>
<circle cx="551.5" cy="104.5" r="4.1" fill="#080808"/>
<circle cx="547.6" cy="113.5" r="4.1" fill="#080808"/>
<circle cx="564.3" cy="110.6" r="4.1" fill="#080808"/>
<circle cx="557.3" cy="118.3" r="4.1" fill="#080808"/>
<circle cx="557.2" cy="125.0" r="4.1" fill="#080808"/>
<circle cx="575.3" cy="121.0" r="4.1" fill="#080808"/>
<circle cx="632.1" cy="108.8" r="4.1" fill="#080808"/>
<circle cx="570.4" cy="134.8" r="4.1" fill="#080808"/>
<circle cx="555.0" cy="133.7" r="4.1" fill="#080808"/>
<circle cx="485.9" cy="149.2" r="4.1" fill="#080808"/>
<circle cx="504.4" cy="169.2" r="4.1" fill="#080808"/>
<circle cx="512.4" cy="143.3" r="4.1" fill="#080808"/>
<circle cx="530.4" cy="147.5" r="4.1" fill="#080808"/>
<circle cx="532.1" cy="159.0" r="4.1" fill="#080808"/>
<circle cx="548.8" cy="156.7" r="4.1" fill="#080808"/>
<circle cx="577.1" cy="165.5" r="4.1" fill="#080808"/>
<circle cx="576.9" cy="170.2" r="4.1" fill="#080808"/>
<circle cx="581.9" cy="181.3" r="4.1" fill="#080808"/>
<circle cx="585.4" cy="193.5" r="4.1" fill="#080808"/>
<circle cx="555.9" cy="192.3" r="4.1" fill="#080808"/>
<circle cx="595.3" cy="162.8" r="4.1" fill="#080808"/>
<circle cx="522.1" cy="74.0" r="3.4" fill="#fff" stroke="#1a1a1a" stroke-width="1.5"/>
<circle cx="519.3" cy="83.8" r="3.4" fill="#fff" stroke="#1a1a1a" stroke-width="1.5"/>
<circle cx="526.5" cy="81.0" r="3.4" fill="#fff" stroke="#1a1a1a" stroke-width="1.5"/>
<circle cx="515.3" cy="99.4" r="3.4" fill="#fff" stroke="#1a1a1a" stroke-width="1.5"/>
<circle cx="514.3" cy="113.3" r="3.4" fill="#fff" stroke="#1a1a1a" stroke-width="1.5"/>
<circle cx="472.0" cy="126.1" r="3.4" fill="#fff" stroke="#1a1a1a" stroke-width="1.5"/>
<circle cx="493.7" cy="127.7" r="3.4" fill="#fff" stroke="#1a1a1a" stroke-width="1.5"/>
<circle cx="525.3" cy="116.9" r="3.4" fill="#fff" stroke="#1a1a1a" stroke-width="1.5"/>
<circle cx="537.7" cy="111.5" r="3.4" fill="#fff" stroke="#1a1a1a" stroke-width="1.5"/>
<circle cx="539.0" cy="117.3" r="3.4" fill="#fff" stroke="#1a1a1a" stroke-width="1.5"/>
<circle cx="555.2" cy="110.2" r="3.4" fill="#fff" stroke="#1a1a1a" stroke-width="1.5"/>
<circle cx="551.0" cy="116.4" r="3.4" fill="#fff" stroke="#1a1a1a" stroke-width="1.5"/>
<circle cx="524.0" cy="122.6" r="3.4" fill="#fff" stroke="#1a1a1a" stroke-width="1.5"/>
<circle cx="542.6" cy="127.5" r="3.4" fill="#fff" stroke="#1a1a1a" stroke-width="1.5"/>
<circle cx="534.2" cy="131.1" r="3.4" fill="#fff" stroke="#1a1a1a" stroke-width="1.5"/>
<circle cx="525.7" cy="133.7" r="3.4" fill="#fff" stroke="#1a1a1a" stroke-width="1.5"/>
<circle cx="524.0" cy="138.2" r="3.4" fill="#fff" stroke="#1a1a1a" stroke-width="1.5"/>
<circle cx="511.1" cy="137.5" r="3.4" fill="#fff" stroke="#1a1a1a" stroke-width="1.5"/>
<circle cx="517.3" cy="142.4" r="3.4" fill="#fff" stroke="#1a1a1a" stroke-width="1.5"/>
<circle cx="522.6" cy="145.3" r="3.4" fill="#fff" stroke="#1a1a1a" stroke-width="1.5"/>
<circle cx="540.4" cy="140.4" r="3.4" fill="#fff" stroke="#1a1a1a" stroke-width="1.5"/>
<circle cx="547.9" cy="139.9" r="3.4" fill="#fff" stroke="#1a1a1a" stroke-width="1.5"/>
<circle cx="557.7" cy="141.1" r="3.4" fill="#fff" stroke="#1a1a1a" stroke-width="1.5"/>
<circle cx="558.7" cy="136.2" r="3.4" fill="#fff" stroke="#1a1a1a" stroke-width="1.5"/>
<circle cx="569.5" cy="109.5" r="3.4" fill="#fff" stroke="#1a1a1a" stroke-width="1.5"/>
<circle cx="605.0" cy="91.2" r="3.4" fill="#fff" stroke="#1a1a1a" stroke-width="1.5"/>
<circle cx="605.8" cy="97.8" r="3.4" fill="#fff" stroke="#1a1a1a" stroke-width="1.5"/>
<circle cx="582.2" cy="124.6" r="3.4" fill="#fff" stroke="#1a1a1a" stroke-width="1.5"/>
<circle cx="601.6" cy="120.6" r="3.4" fill="#fff" stroke="#1a1a1a" stroke-width="1.5"/>
<circle cx="466.7" cy="146.2" r="3.4" fill="#fff" stroke="#1a1a1a" stroke-width="1.5"/>
<circle cx="508.6" cy="157.5" r="3.4" fill="#fff" stroke="#1a1a1a" stroke-width="1.5"/>
<circle cx="495.0" cy="165.0" r="3.4" fill="#fff" stroke="#1a1a1a" stroke-width="1.5"/>
<circle cx="525.2" cy="152.5" r="3.4" fill="#fff" stroke="#1a1a1a" stroke-width="1.5"/>
<circle cx="530.0" cy="167.5" r="3.4" fill="#fff" stroke="#1a1a1a" stroke-width="1.5"/>
<circle cx="525.3" cy="174.6" r="3.4" fill="#fff" stroke="#1a1a1a" stroke-width="1.5"/>
<circle cx="523.5" cy="184.5" r="3.4" fill="#fff" stroke="#1a1a1a" stroke-width="1.5"/>
<circle cx="531.6" cy="188.7" r="3.4" fill="#fff" stroke="#1a1a1a" stroke-width="1.5"/>
<circle cx="540.5" cy="159.7" r="3.4" fill="#fff" stroke="#1a1a1a" stroke-width="1.5"/>
<circle cx="548.4" cy="163.0" r="3.4" fill="#fff" stroke="#1a1a1a" stroke-width="1.5"/>
<circle cx="552.0" cy="164.2" r="3.4" fill="#fff" stroke="#1a1a1a" stroke-width="1.5"/>
<circle cx="570.9" cy="199.4" r="3.4" fill="#fff" stroke="#1a1a1a" stroke-width="1.5"/>
<path d="M443.3,398.5 L447.9,398.7 L452.4,398.8 L457.0,399.0 L461.5,399.1 L466.1,399.2 L470.6,399.4 L475.2,399.5 L479.8,399.6 L484.3,399.7 L488.9,399.7 L493.4,399.8 L498.0,399.8 L502.5,399.7 L507.1,399.7 L511.7,399.5 L516.2,399.3 L520.8,399.0 L525.3,398.5 L529.9,398.0 L534.5,397.3 L539.0,396.5 L543.6,395.5 L548.1,394.4 L552.7,393.2 L557.2,392.0 L561.8,390.6 L566.4,389.3 L570.9,387.8 L575.5,386.4 L580.0,384.9 L584.6,383.4 L589.1,381.9 L593.7,380.4 L598.3,378.8 L602.8,377.3 L607.4,375.7 L611.9,374.1 L616.5,372.6 L621.0,371.0 L625.6,369.4 L625.6,408.8 L621.0,408.6 L616.5,408.5 L611.9,408.3 L607.4,408.2 L602.8,408.0 L598.3,407.9 L593.7,407.8 L589.1,407.7 L584.6,407.6 L580.0,407.5 L575.5,407.4 L570.9,407.4 L566.4,407.4 L561.8,407.4 L557.2,407.5 L552.7,407.7 L548.1,407.9 L543.6,408.3 L539.0,408.7 L534.5,409.3 L529.9,410.0 L525.3,410.9 L520.8,411.9 L516.2,413.0 L511.7,414.2 L507.1,415.5 L502.5,416.8 L498.0,418.2 L493.4,419.6 L488.9,421.1 L484.3,422.6 L479.8,424.1 L475.2,425.6 L470.6,427.1 L466.1,428.7 L461.5,430.2 L457.0,431.8 L452.4,433.3 L447.9,434.9 L443.3,436.5Z" fill="#b9b9b9"/>
<path d="M440.2,370.7 L444.7,372.2 L449.2,373.6 L453.6,375.1 L458.1,376.6 L462.6,378.0 L467.1,379.5 L471.5,380.9 L476.0,382.3 L480.5,383.7 L485.0,385.1 L489.5,386.5 L493.9,387.9 L498.4,389.2 L502.9,390.5 L507.4,391.7 L511.8,392.9 L516.3,394.0 L520.8,395.1 L525.3,396.0 L529.8,396.8 L534.2,397.5 L538.7,398.0 L543.2,398.4 L547.7,398.7 L552.1,398.8 L556.6,398.8 L561.1,398.7 L565.6,398.5 L570.0,398.3 L574.5,398.0 L579.0,397.7 L583.5,397.4 L588.0,397.0 L592.4,396.6 L596.9,396.2 L601.4,395.8 L605.9,395.4 L610.3,394.9 L614.8,394.5 L619.3,394.0 L619.3,434.0 L614.8,432.5 L610.3,431.1 L605.9,429.7 L601.4,428.2 L596.9,426.8 L592.4,425.4 L588.0,424.0 L583.5,422.7 L579.0,421.3 L574.5,420.0 L570.0,418.7 L565.6,417.5 L561.1,416.4 L556.6,415.3 L552.1,414.3 L547.7,413.4 L543.2,412.7 L538.7,412.0 L534.2,411.6 L529.8,411.3 L525.3,411.1 L520.8,411.0 L516.3,411.1 L511.8,411.2 L507.4,411.4 L502.9,411.7 L498.4,412.0 L493.9,412.3 L489.5,412.6 L485.0,413.0 L480.5,413.4 L476.0,413.8 L471.5,414.3 L467.1,414.7 L462.6,415.2 L458.1,415.6 L453.6,416.1 L449.2,416.5 L444.7,417.0 L440.2,417.5Z" fill="#3e3e3e" fill-opacity="0.7"/>
<line x1="414.0" y1="408.7" x2="647.0" y2="408.7" stroke="#111" stroke-width="1.9" stroke-dasharray="11 5.3"/>
<line x1="443.3" y1="417.5" x2="625.6" y2="389.1" stroke="#0a0a0a" stroke-width="3"/>
<line x1="440.2" y1="394.1" x2="619.3" y2="414.2" stroke="#0a0a0a" stroke-width="3"/>
<path d="M415.0,302.9 V513.0 H647.0" fill="none" stroke="#333" stroke-width="1.6"/>
<line x1="412.5" y1="349.2" x2="415.0" y2="349.2" stroke="#333" stroke-width="1.3"/>
<line x1="412.5" y1="408.7" x2="415.0" y2="408.7" stroke="#333" stroke-width="1.3"/>
<line x1="412.5" y1="468.7" x2="415.0" y2="468.7" stroke="#333" stroke-width="1.3"/>
<line x1="425.2" y1="513.0" x2="425.2" y2="515.5" stroke="#333" stroke-width="1.3"/>
<line x1="510.1" y1="513.0" x2="510.1" y2="515.5" stroke="#333" stroke-width="1.3"/>
<line x1="594.6" y1="513.0" x2="594.6" y2="515.5" stroke="#333" stroke-width="1.3"/>
<circle cx="545.4" cy="316.2" r="4.1" fill="#080808"/>
<circle cx="552.5" cy="343.8" r="4.1" fill="#080808"/>
<circle cx="558.8" cy="351.5" r="4.1" fill="#080808"/>
<circle cx="538.3" cy="358.0" r="4.1" fill="#080808"/>
<circle cx="604.9" cy="364.8" r="4.1" fill="#080808"/>
<circle cx="608.2" cy="380.2" r="4.1" fill="#080808"/>
<circle cx="496.9" cy="366.6" r="4.1" fill="#080808"/>
<circle cx="512.6" cy="377.0" r="4.1" fill="#080808"/>
<circle cx="523.0" cy="374.7" r="4.1" fill="#080808"/>
<circle cx="493.0" cy="377.8" r="4.1" fill="#080808"/>
<circle cx="450.7" cy="381.3" r="4.1" fill="#080808"/>
<circle cx="480.6" cy="388.0" r="4.1" fill="#080808"/>
<circle cx="490.6" cy="388.0" r="4.1" fill="#080808"/>
<circle cx="489.3" cy="396.5" r="4.1" fill="#080808"/>
<circle cx="509.8" cy="395.0" r="4.1" fill="#080808"/>
<circle cx="519.2" cy="395.4" r="4.1" fill="#080808"/>
<circle cx="524.3" cy="392.3" r="4.1" fill="#080808"/>
<circle cx="439.7" cy="409.1" r="4.1" fill="#080808"/>
<circle cx="468.8" cy="412.0" r="4.1" fill="#080808"/>
<circle cx="509.0" cy="410.7" r="4.1" fill="#080808"/>
<circle cx="515.3" cy="422.2" r="4.1" fill="#080808"/>
<circle cx="526.3" cy="423.8" r="4.1" fill="#080808"/>
<circle cx="535.6" cy="420.6" r="4.1" fill="#080808"/>
<circle cx="534.4" cy="402.2" r="4.1" fill="#080808"/>
<circle cx="529.8" cy="440.2" r="4.1" fill="#080808"/>
<circle cx="557.2" cy="384.7" r="4.1" fill="#080808"/>
<circle cx="552.0" cy="390.7" r="4.1" fill="#080808"/>
<circle cx="552.8" cy="394.6" r="4.1" fill="#080808"/>
<circle cx="569.7" cy="392.0" r="4.1" fill="#080808"/>
<circle cx="576.0" cy="401.7" r="4.1" fill="#080808"/>
<circle cx="594.9" cy="400.6" r="4.1" fill="#080808"/>
<circle cx="530.0" cy="385.0" r="4.1" fill="#080808"/>
<circle cx="547.3" cy="414.3" r="4.1" fill="#080808"/>
<circle cx="561.0" cy="415.9" r="4.1" fill="#080808"/>
<circle cx="569.4" cy="412.0" r="4.1" fill="#080808"/>
<circle cx="588.0" cy="420.2" r="4.1" fill="#080808"/>
<circle cx="581.2" cy="423.8" r="4.1" fill="#080808"/>
<circle cx="583.5" cy="427.8" r="4.1" fill="#080808"/>
<circle cx="581.2" cy="437.4" r="4.1" fill="#080808"/>
<circle cx="547.5" cy="438.5" r="4.1" fill="#080808"/>
<circle cx="529.7" cy="407.2" r="4.1" fill="#080808"/>
<circle cx="539.4" cy="408.0" r="4.1" fill="#080808"/>
<circle cx="498.3" cy="451.8" r="4.1" fill="#080808"/>
<circle cx="552.4" cy="459.4" r="4.1" fill="#080808"/>
<circle cx="608.7" cy="457.8" r="4.1" fill="#080808"/>
<circle cx="619.0" cy="457.0" r="4.1" fill="#080808"/>
<circle cx="528.0" cy="471.3" r="4.1" fill="#080808"/>
<circle cx="524.0" cy="493.8" r="4.1" fill="#080808"/>
<circle cx="463.3" cy="341.4" r="3.4" fill="#fff" stroke="#1a1a1a" stroke-width="1.5"/>
<circle cx="498.3" cy="374.3" r="3.4" fill="#fff" stroke="#1a1a1a" stroke-width="1.5"/>
<circle cx="546.1" cy="347.7" r="3.4" fill="#fff" stroke="#1a1a1a" stroke-width="1.5"/>
<circle cx="559.4" cy="358.6" r="3.4" fill="#fff" stroke="#1a1a1a" stroke-width="1.5"/>
<circle cx="575.2" cy="357.0" r="3.4" fill="#fff" stroke="#1a1a1a" stroke-width="1.5"/>
<circle cx="547.8" cy="362.8" r="3.4" fill="#fff" stroke="#1a1a1a" stroke-width="1.5"/>
<circle cx="570.2" cy="369.8" r="3.4" fill="#fff" stroke="#1a1a1a" stroke-width="1.5"/>
<circle cx="552.5" cy="380.0" r="3.4" fill="#fff" stroke="#1a1a1a" stroke-width="1.5"/>
<circle cx="583.5" cy="378.6" r="3.4" fill="#fff" stroke="#1a1a1a" stroke-width="1.5"/>
<circle cx="603.2" cy="378.8" r="3.4" fill="#fff" stroke="#1a1a1a" stroke-width="1.5"/>
<circle cx="463.8" cy="381.6" r="3.4" fill="#fff" stroke="#1a1a1a" stroke-width="1.5"/>
<circle cx="462.8" cy="389.1" r="3.4" fill="#fff" stroke="#1a1a1a" stroke-width="1.5"/>
<circle cx="486.9" cy="381.3" r="3.4" fill="#fff" stroke="#1a1a1a" stroke-width="1.5"/>
<circle cx="484.6" cy="392.8" r="3.4" fill="#fff" stroke="#1a1a1a" stroke-width="1.5"/>
<circle cx="492.4" cy="395.9" r="3.4" fill="#fff" stroke="#1a1a1a" stroke-width="1.5"/>
<circle cx="508.2" cy="399.4" r="3.4" fill="#fff" stroke="#1a1a1a" stroke-width="1.5"/>
<circle cx="510.2" cy="403.8" r="3.4" fill="#fff" stroke="#1a1a1a" stroke-width="1.5"/>
<circle cx="524.3" cy="397.0" r="3.4" fill="#fff" stroke="#1a1a1a" stroke-width="1.5"/>
<circle cx="520.5" cy="406.5" r="3.4" fill="#fff" stroke="#1a1a1a" stroke-width="1.5"/>
<circle cx="473.2" cy="408.3" r="3.4" fill="#fff" stroke="#1a1a1a" stroke-width="1.5"/>
<circle cx="464.1" cy="416.2" r="3.4" fill="#fff" stroke="#1a1a1a" stroke-width="1.5"/>
<circle cx="525.5" cy="382.8" r="3.4" fill="#fff" stroke="#1a1a1a" stroke-width="1.5"/>
<circle cx="540.8" cy="386.2" r="3.4" fill="#fff" stroke="#1a1a1a" stroke-width="1.5"/>
<circle cx="530.5" cy="427.2" r="3.4" fill="#fff" stroke="#1a1a1a" stroke-width="1.5"/>
<circle cx="499.5" cy="435.5" r="3.4" fill="#fff" stroke="#1a1a1a" stroke-width="1.5"/>
<circle cx="512.5" cy="434.0" r="3.4" fill="#fff" stroke="#1a1a1a" stroke-width="1.5"/>
<circle cx="575.7" cy="386.8" r="3.4" fill="#fff" stroke="#1a1a1a" stroke-width="1.5"/>
<circle cx="588.6" cy="387.6" r="3.4" fill="#fff" stroke="#1a1a1a" stroke-width="1.5"/>
<circle cx="608.0" cy="388.8" r="3.4" fill="#fff" stroke="#1a1a1a" stroke-width="1.5"/>
<circle cx="625.6" cy="386.2" r="3.4" fill="#fff" stroke="#1a1a1a" stroke-width="1.5"/>
<circle cx="561.2" cy="391.5" r="3.4" fill="#fff" stroke="#1a1a1a" stroke-width="1.5"/>
<circle cx="555.7" cy="401.0" r="3.4" fill="#fff" stroke="#1a1a1a" stroke-width="1.5"/>
<circle cx="569.1" cy="403.3" r="3.4" fill="#fff" stroke="#1a1a1a" stroke-width="1.5"/>
<circle cx="577.2" cy="412.0" r="3.4" fill="#fff" stroke="#1a1a1a" stroke-width="1.5"/>
<circle cx="570.6" cy="422.8" r="3.4" fill="#fff" stroke="#1a1a1a" stroke-width="1.5"/>
<circle cx="617.8" cy="425.1" r="3.4" fill="#fff" stroke="#1a1a1a" stroke-width="1.5"/>
<circle cx="542.6" cy="427.6" r="3.4" fill="#fff" stroke="#1a1a1a" stroke-width="1.5"/>
<circle cx="549.0" cy="429.4" r="3.4" fill="#fff" stroke="#1a1a1a" stroke-width="1.5"/>
<circle cx="593.0" cy="433.0" r="3.4" fill="#fff" stroke="#1a1a1a" stroke-width="1.5"/>
<circle cx="552.6" cy="436.5" r="3.4" fill="#fff" stroke="#1a1a1a" stroke-width="1.5"/>
<circle cx="442.8" cy="447.2" r="3.4" fill="#fff" stroke="#1a1a1a" stroke-width="1.5"/>
<circle cx="449.9" cy="463.6" r="3.4" fill="#fff" stroke="#1a1a1a" stroke-width="1.5"/>
<circle cx="466.2" cy="468.8" r="3.4" fill="#fff" stroke="#1a1a1a" stroke-width="1.5"/>
<circle cx="516.0" cy="451.2" r="3.4" fill="#fff" stroke="#1a1a1a" stroke-width="1.5"/>
<circle cx="537.5" cy="464.0" r="3.4" fill="#fff" stroke="#1a1a1a" stroke-width="1.5"/>
<circle cx="503.9" cy="488.0" r="3.4" fill="#fff" stroke="#1a1a1a" stroke-width="1.5"/>
<g fill="#222" font-size="16" text-anchor="end">
<text x="414.2" y="80.7">0.5</text><text x="414.2" y="140.2">0.0</text><text x="414.2" y="199.8">-0.5</text>
<text x="410.5" y="354.8">0.5</text><text x="410.5" y="414.3">0.0</text><text x="410.5" y="474.3">-0.5</text>
</g>
<g fill="#222" font-size="16" text-anchor="middle">
<text x="463.6" y="254.7">-100</text><text x="532" y="254.7">0</text><text x="601.2" y="254.7">100</text>
<text x="425" y="528.3">-1.5</text><text x="510" y="528.3">-0.5</text><text x="594.8" y="528.3">0.5</text>
</g>
<g fill="#222" text-anchor="middle">
<text x="531" y="269.6" font-size="16.5">Δ false alarm RT</text>
<text x="532.5" y="286.5" font-size="16.6">Black - White faces</text>
<text x="530.5" y="543.6" font-size="16">Δ dprime</text>
<text x="531.8" y="561.2" font-size="15.8">Black - White faces</text>
<text transform="translate(365.1,134.3) rotate(-90)" font-size="15.8">Δ % signal change in bilat FFA</text>
<text transform="translate(382.1,134.6) rotate(-90)" font-size="15.6">Black - White faces</text>
<text transform="translate(364.6,408.1) rotate(-90)" font-size="15.9">Δ % signal change in rOFC</text>
<text transform="translate(381.6,408) rotate(-90)" font-size="15.8">Black - White faces</text>
</g>
<g fill="#111" font-size="19.6">
<text x="712.4" y="267.2" text-anchor="middle" letter-spacing="0.42">Participant</text>
<text x="711.5" y="284.6" text-anchor="middle">Race</text>
<rect x="670.3" y="288.8" width="14.6" height="19" fill="#b9b9b9"/>
<rect x="670.3" y="307.8" width="14.6" height="19.9" fill="#7b7b7b"/>
<circle cx="677.8" cy="298.6" r="4.1" fill="#fff" stroke="#111" stroke-width="2.6"/>
<circle cx="677.8" cy="317.9" r="5.5" fill="#0a0a0a"/>
<text x="695.3" y="305.5">White</text>
<text x="695.6" y="325.8">Black</text>
</g>
</svg></body></html>
